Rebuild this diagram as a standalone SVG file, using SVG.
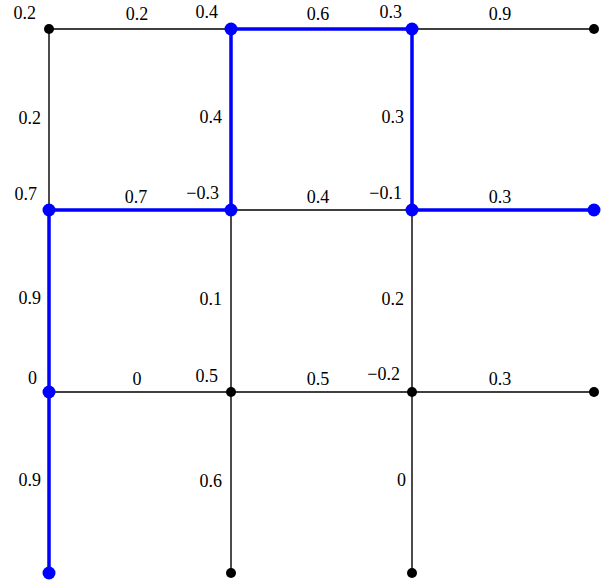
<svg xmlns="http://www.w3.org/2000/svg" width="607" height="588" viewBox="0 0 607 588">
<style>
.e{stroke:#000;stroke-width:1.4;fill:none}
.b{stroke:#0000ff;stroke-width:3.5;fill:none;stroke-linejoin:round}
.n{fill:#000}
.nb{fill:#0000ff}
.r{text-anchor:end}
.m{text-anchor:middle}
</style>
<rect width="607" height="588" fill="#fff"/>
<g id="connectors">
<path class="e" d="M49,29H594M49,210H594M49,392H594M49,29V573M231,29V573M412,29V573"/>
<path class="b" d="M49,573V210H231V29H412V210H594"/>
</g>
<g font-family="'Liberation Serif', 'Times New Roman', serif" font-size="18" fill="#000">
<g id="edge-labels">
<text class="m" x="137" y="20">0.2</text>
<text class="m" x="318" y="20">0.6</text>
<text class="m" x="500" y="20">0.9</text>
<text class="m" x="136" y="203">0.7</text>
<text class="m" x="318" y="203">0.4</text>
<text class="m" x="500" y="203">0.3</text>
<text class="m" x="137" y="385">0</text>
<text class="m" x="318" y="385">0.5</text>
<text class="m" x="500" y="385">0.3</text>
<text class="r" x="41" y="124">0.2</text>
<text class="r" x="41" y="304">0.9</text>
<text class="r" x="41" y="486">0.9</text>
<text class="r" x="222" y="123">0.4</text>
<text class="r" x="222" y="305">0.1</text>
<text class="r" x="222" y="487">0.6</text>
<text class="r" x="404" y="123">0.3</text>
<text class="r" x="404" y="305">0.2</text>
<text class="r" x="406" y="486">0</text>
</g>
<g id="n00"><circle class="n" cx="49" cy="29" r="5"/><text class="r" x="36" y="19">0.2</text></g>
<g id="n10"><circle class="nb" cx="231" cy="29" r="6.5"/><text class="r" x="218" y="18">0.4</text></g>
<g id="n20"><circle class="nb" cx="412" cy="29" r="6.5"/><text class="r" x="402" y="18">0.3</text></g>
<g id="n30"><circle class="n" cx="594" cy="29" r="5"/></g>
<g id="n01"><circle class="nb" cx="49" cy="210" r="6.5"/><text class="r" x="37" y="200">0.7</text></g>
<g id="n11"><circle class="nb" cx="231" cy="210" r="6.5"/><text class="r" x="219" y="199">−0.3</text></g>
<g id="n21"><circle class="nb" cx="412" cy="210" r="6.5"/><text class="r" x="402" y="199">−0.1</text></g>
<g id="n31"><circle class="nb" cx="594" cy="210" r="6.5"/></g>
<g id="n02"><circle class="nb" cx="49" cy="392" r="6.5"/><text class="r" x="37" y="384">0</text></g>
<g id="n12"><circle class="n" cx="231" cy="392" r="5"/><text class="r" x="218" y="382">0.5</text></g>
<g id="n22"><circle class="n" cx="412" cy="392" r="5"/><text class="r" x="400" y="380">−0.2</text></g>
<g id="n32"><circle class="n" cx="594" cy="392" r="5"/></g>
<g id="n03"><circle class="nb" cx="49" cy="573" r="6.5"/></g>
<g id="n13"><circle class="n" cx="231" cy="573" r="5"/></g>
<g id="n23"><circle class="n" cx="412" cy="573" r="5"/></g>
</g>
</svg>
